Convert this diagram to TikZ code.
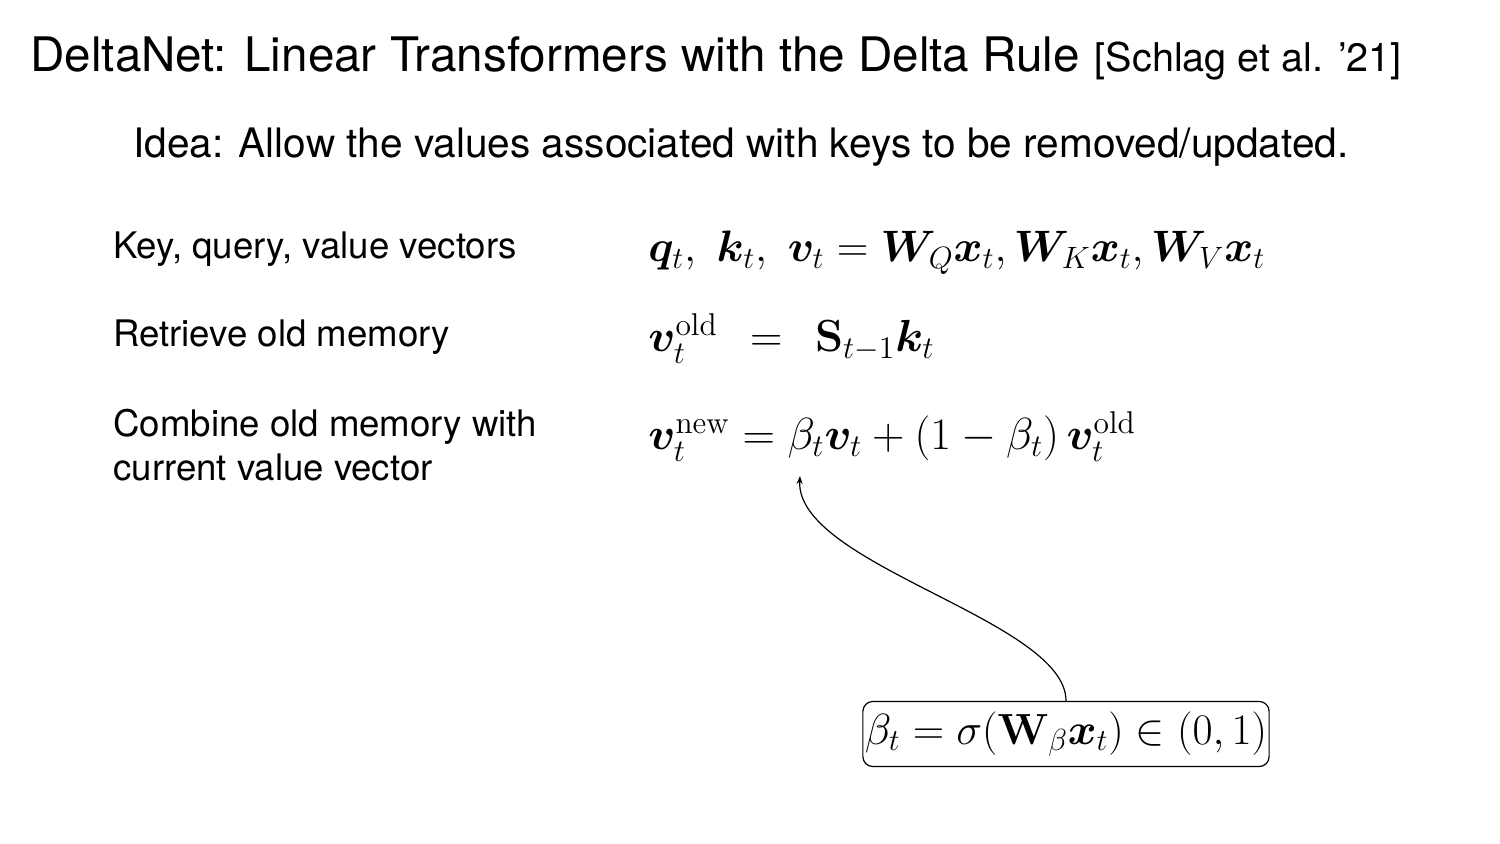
\RequirePackage{fix-cm}
\documentclass[tikz,border=0pt]{standalone}
\usepackage{amsmath}
\usepackage{bm}
\usepackage[no-math]{fontspec}
\setsansfont{TeX Gyre Heros}
\usetikzlibrary{arrows.meta}
\begin{document}
\begin{tikzpicture}[x=0.5pt,y=-0.5pt,
  txt/.style={anchor=base west,inner sep=0pt,font=\sffamily\fontsize{18.3}{22}\selectfont},
  eqn/.style={anchor=base west,inner sep=0pt,font=\fontsize{22.5}{27}\selectfont},
  gatebox/.style={draw,rounded corners=5pt,line width=0.6pt,inner xsep=1pt,inner ysep=5pt,font=\fontsize{21.8}{26}\selectfont},
  arr/.style={-{Stealth[length=4pt,width=3pt]},line width=0.6pt}]
  \useasboundingbox[fill=white] (0,0) rectangle (1500,844);
  \node[txt,font=\sffamily\fontsize{23.8}{28}\selectfont] (title) at (30,72) {DeltaNet: Linear Transformers with the Delta Rule};
  \node[txt,font=\sffamily\fontsize{19.8}{24}\selectfont] (cite) at ([xshift=7pt]title.base east) {[Schlag et al. ’21]};
  \node[txt,font=\sffamily\fontsize{20.3}{25}\selectfont] (idea) at (133,158) {Idea: Allow the values associated with keys to be removed/updated.};
  \node[txt] (kqv) at (113,259) {Key, query, value vectors}; \node[txt] (retr) at (113,347) {Retrieve old memory};
  \node[txt] (comb) at (113,437) {Combine old memory with}; \node[txt] (comb2) at (113,481) {current value vector};
  \node[eqn,font=\fontsize{22}{27}\selectfont] (eqkqv) at (648,262) {$\bm{q}_t,\ \bm{k}_t,\ \bm{v}_t = \bm{W}_Q\bm{x}_t, \bm{W}_K\bm{x}_t, \bm{W}_V\bm{x}_t$};
  \node[eqn] (eqold) at (648,352) {$\bm{v}_t^{\mathrm{old}} \;\,=\;\, \mathbf{S}_{t-1}\bm{k}_t$};
  \node[eqn] (eqnew) at (648,450) {$\bm{v}_t^{\mathrm{new}} = \beta_t\bm{v}_t + (1-\beta_t)\,\bm{v}_t^{\mathrm{old}}$};
  \node[gatebox] (gate) at (1066,734) {$\beta_t = \sigma(\mathbf{W}_\beta\bm{x}_t) \in (0,1)$};
  \coordinate (betatip) at (800,476);
  \draw[arr] (gate.north) .. controls (1066,620) and (795,565) .. (betatip);
\end{tikzpicture}
\end{document}
